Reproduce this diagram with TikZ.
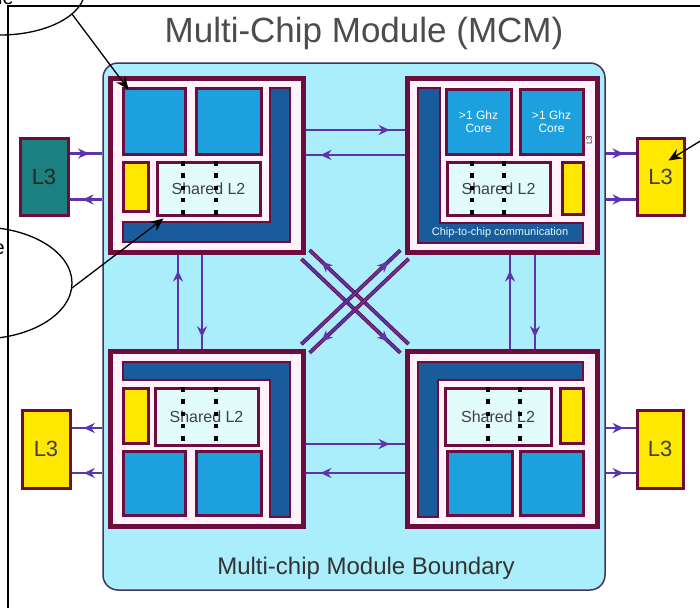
\documentclass[tikz,border=0pt]{standalone}
\usepackage{fontspec}
\setmainfont{Liberation Sans}
\usetikzlibrary{arrows.meta,decorations.markings}
\definecolor{mcmcyan}{RGB}{170,238,252}
\definecolor{mymaroon}{RGB}{110,12,62}
\definecolor{coreblue}{RGB}{28,160,222}
\definecolor{navyb}{RGB}{24,92,156}
\definecolor{lcyan}{RGB}{226,252,252}
\definecolor{yel}{RGB}{255,232,0}
\definecolor{tealthree}{RGB}{28,128,128}
\definecolor{purp}{RGB}{92,52,172}
\definecolor{chipin}{RGB}{255,242,250}
\definecolor{edgec}{RGB}{70,50,90}
\tikzset{
 chipbox/.style={draw=mymaroon, line width=5pt, fill=chipin},
 corebox/.style={draw=mymaroon, line width=3pt, fill=coreblue},
 coretxt/.style={text=white, align=center, font=\fontsize{12}{13}\selectfont},
 ltwobox/.style={draw=mymaroon, line width=3pt, fill=lcyan, font=\fontsize{16}{16}\selectfont, text=black!75},
 ybox/.style={draw=mymaroon, line width=3pt, fill=yel},
 lthree/.style={draw=mymaroon, line width=3pt, fill=yel, font=\fontsize{22}{22}\selectfont, text=black!75},
 navybar/.style={draw=mymaroon, line width=2pt, fill=navyb},
 dotl/.style={black, line width=4.5pt, dash pattern=on 4.5pt off 7.8pt},
 link/.style={purp, line width=2.5pt},
 diag/.style={purp, line width=2pt, preaction={draw=mymaroon, line width=3.8pt}},
 arrat/.style={postaction={decorate}, decoration={markings, mark=at position #1 with {\arrow{Stealth[length=11pt,width=10pt]}}}},
 callout/.style={black, line width=1.3pt},
}
\newcommand\rbox[7]{\node[#2, inner sep=0pt, minimum width={(#5-#3)*1pt}, minimum height={(#6-#4)*1pt}] (#1) at ({(#3+#5)/2},{-(#4+#6)/2}) {#7};}
\begin{document}
\begin{tikzpicture}[x=1pt,y=1pt]
\useasboundingbox (0,0) rectangle (700,-608);
\clip (0,0) rectangle (700,-608);
\fill[white] (0,0) rectangle (700,-608);

% outer frame
\draw[black, line width=1.5pt] (8,-608) -- (8,-6) -- (700,-6);

% title
\node[anchor=base, inner sep=0pt, font=\fontsize{35}{35}\selectfont, text=black!70] (title) at (364,-42) {Multi-Chip Module (MCM)};

% module
\rbox{mcm}{draw=edgec, line width=1.5pt, fill=mcmcyan, rounded corners=15pt}{103}{63}{605}{590}{}
\node[anchor=base, inner sep=0pt, font=\fontsize{24}{24}\selectfont, text=black!80] (bnd) at (366,-574) {Multi-chip Module Boundary};

% chip frames (for anchors)
\rbox{tl}{chipbox}{110}{78}{303}{252}{}
\rbox{tr}{chipbox}{407}{78}{597}{252}{}
\rbox{bl}{chipbox}{110}{351}{303}{526}{}
\rbox{br}{chipbox}{407}{351}{597}{526}{}

% chip-to-chip links
\draw[link, arrat=0.85] ([yshift=35pt]tl.east) -- ([yshift=35pt]tr.west);
\draw[link, arrat=0.85] ([yshift=10pt]tr.west) -- ([yshift=10pt]tl.east);
\draw[link, arrat=0.85] ([yshift=-5.5pt]bl.east) -- ([yshift=-5.5pt]br.west);
\draw[link, arrat=0.85] ([yshift=-34.5pt]br.west) -- ([yshift=-34.5pt]bl.east);
\draw[link, arrat=0.83] ([xshift=-28.5pt]bl.north) -- ([xshift=-28.5pt]tl.south);
\draw[link, arrat=0.88] ([xshift=-4.5pt]tl.south) -- ([xshift=-4.5pt]bl.north);
\draw[link, arrat=0.83] ([xshift=8pt]br.north) -- ([xshift=8pt]tr.south);
\draw[link, arrat=0.88] ([xshift=33pt]tr.south) -- ([xshift=33pt]br.north);

% diagonals
\draw[diag, arrat=0.88] ([shift={(4.1,4.4)}]br.north west) -- ([shift={(4.1,4.4)}]tl.south east);
\draw[diag, arrat=0.88] ([shift={(-4.1,-4.4)}]tl.south east) -- ([shift={(-4.1,-4.4)}]br.north west);
\draw[diag, arrat=0.88] ([shift={(-4.1,4.3)}]bl.north east) -- ([shift={(-4.1,4.3)}]tr.south west);
\draw[diag, arrat=0.88] ([shift={(4.1,-4.3)}]tr.south west) -- ([shift={(4.1,-4.3)}]bl.north east);

% redraw chips over link ends
\rbox{tlf}{chipbox}{110}{78}{303}{252}{}
\rbox{trf}{chipbox}{407}{78}{597}{252}{}
\rbox{blf}{chipbox}{110}{351}{303}{526}{}
\rbox{brf}{chipbox}{407}{351}{597}{526}{}

% ---- TL chip
\draw[navybar] (270,-88) -- (290,-88) -- (290,-242) -- (123,-242) -- (123,-222) -- (270,-222) -- cycle;
\rbox{tlc1}{corebox}{123}{88}{185}{154}{}
\rbox{tlc2}{corebox}{196}{88}{261}{154}{}
\rbox{tly}{ybox}{123}{162}{148}{211}{}
\rbox{tll2}{ltwobox}{157}{162}{260}{215}{Shared L2}
\draw[dotl] (183,-161) -- (183,-216);
\draw[dotl] (216,-161) -- (216,-216);

% ---- TR chip
\draw[navybar] (418,-88) -- (440,-88) -- (440,-223) -- (583,-223) -- (583,-243) -- (418,-243) -- cycle;
\node[inner sep=0pt, font=\fontsize{11}{11}\selectfont, text=lcyan] (ctoc) at (500,-233) {Chip-to-chip communication};
\rbox{trc1}{corebox,coretxt}{446}{89}{511}{154}{>1 Ghz\\Core}
\rbox{trc2}{corebox,coretxt}{520}{89}{583}{154}{>1 Ghz\\Core}
\rbox{trl2}{ltwobox}{447}{162}{550}{215}{Shared L2}
\rbox{try}{ybox}{562}{162}{583}{214}{}
\draw[dotl] (472,-161) -- (472,-216);
\draw[dotl] (504,-161) -- (504,-216);
\node[rotate=90, inner sep=0pt, font=\fontsize{8}{8}\selectfont, text=black!80] (trlab) at (589,-140) {L3};

% ---- BL chip
\draw[navybar] (123,-362) -- (290,-362) -- (290,-517) -- (270,-517) -- (270,-380) -- (123,-380) -- cycle;
\rbox{bly}{ybox}{123}{388}{148}{443}{}
\rbox{bll2}{ltwobox}{155}{388}{258}{445}{Shared L2}
\rbox{blc1}{corebox}{123}{451}{185}{515}{}
\rbox{blc2}{corebox}{196}{451}{261}{515}{}
\draw[dotl] (183,-387) -- (183,-442);
\draw[dotl] (216,-387) -- (216,-442);

% ---- BR chip
\draw[navybar] (418,-362) -- (583,-362) -- (583,-380) -- (438,-380) -- (438,-517) -- (418,-517) -- cycle;
\rbox{brl2}{ltwobox}{445}{388}{551}{445}{Shared L2}
\rbox{bry}{ybox}{560}{388}{583}{443}{}
\rbox{brc1}{corebox}{447}{451}{512}{515}{}
\rbox{brc2}{corebox}{520}{451}{583}{515}{}
\draw[dotl] (488,-387) -- (488,-442);
\draw[dotl] (520,-387) -- (520,-442);

% ---- L3 boxes
\rbox{lthreetl}{lthree, fill=tealthree, text=black!85}{20}{138}{68}{215}{L3}
\rbox{lthreetr}{lthree}{637}{138}{684}{215}{L3}
\rbox{lthreebl}{lthree}{22}{410}{70}{488}{L3}
\rbox{lthreebr}{lthree}{637}{410}{683}{488}{L3}

\draw[link, arrat=0.6] ([yshift=23pt]lthreetl.east) -- ([yshift=23pt]lthreetl.east -| mcm.west);
\draw[link, arrat=0.6] ([yshift=-23pt]lthreetl.east -| mcm.west) -- ([yshift=-23pt]lthreetl.east);
\draw[link, arrat=0.6] ([yshift=23pt]lthreetr.west -| mcm.east) -- ([yshift=23pt]lthreetr.west);
\draw[link, arrat=0.6] ([yshift=-23pt]lthreetr.west -| mcm.east) -- ([yshift=-23pt]lthreetr.west);
\draw[link, arrat=0.6] ([yshift=21pt]lthreebl.east -| mcm.west) -- ([yshift=21pt]lthreebl.east);
\draw[link, arrat=0.6] ([yshift=-24pt]lthreebl.east -| mcm.west) -- ([yshift=-24pt]lthreebl.east);
\draw[link, arrat=0.6] ([yshift=21pt]lthreebr.west -| mcm.east) -- ([yshift=21pt]lthreebr.west);
\draw[link, arrat=0.6] ([yshift=-24pt]lthreebr.west -| mcm.east) -- ([yshift=-24pt]lthreebr.west);

% ---- callouts
\draw[callout] (0,10) ellipse (85pt and 45pt);
\draw[callout] (-20,-283) ellipse (92pt and 56pt);
\node[anchor=base east, inner sep=0pt, font=\fontsize{20}{20}\selectfont] (capa) at (14,-4) {le};
\node[anchor=base east, inner sep=0pt, font=\fontsize{20}{20}\selectfont] (capb) at (5,-254) {e};
\coordinate (ca) at (72,-14);
\coordinate (cb) at (72,-288);
\coordinate (cc) at (702,-140);
\draw[callout, -{Stealth[length=13pt,width=11pt]}] (ca) -- ([shift={(7,-3)}]tlc1.north west);
\draw[callout, -{Stealth[length=13pt,width=11pt]}] (cb) -- ([shift={(8,-2)}]tll2.south west);
\draw[callout, -{Stealth[length=13pt,width=11pt]}] (cc) -- ([shift={(8,16)}]lthreetr.center);
\end{tikzpicture}
\end{document}
